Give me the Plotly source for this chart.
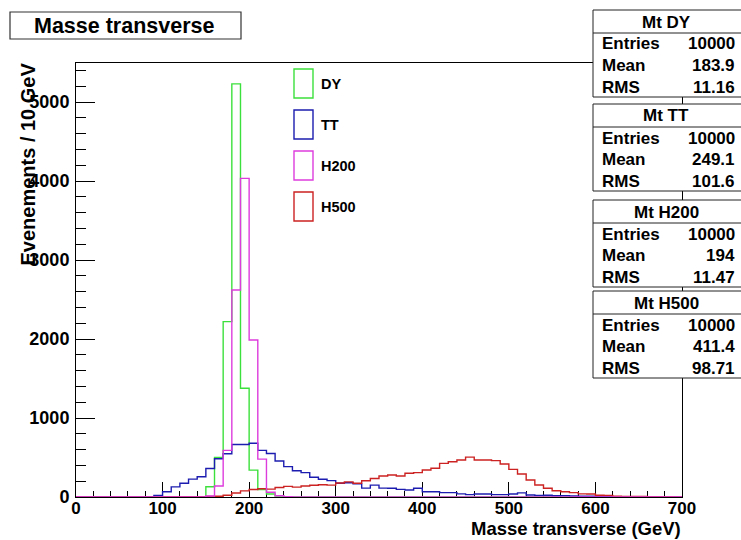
import plotly.graph_objects as go

# 70 bins of 10 GeV between 0 and 700 GeV
bin_edges = list(range(0, 710, 10))

dy = [
    0, 0, 0, 0, 0, 0, 0, 0, 0, 0,
    0, 0, 0, 0, 0, 130, 500, 2220, 5230, 1376,
    340, 95, 38, 13, 3, 0, 0, 0, 0, 0,
    0, 0, 0, 0, 0, 0, 0, 0, 0, 0,
    0, 0, 0, 0, 0, 0, 0, 0, 0, 0,
    0, 0, 0, 0, 0, 0, 0, 0, 0, 0,
    0, 0, 0, 0, 0, 0, 0, 0, 0, 0,
]
tt = [
    0, 0, 0, 0, 0, 0, 0, 0, 5, 21,
    67, 128, 175, 226, 257, 360, 485, 548, 665, 665,
    680, 590, 550, 455, 384, 333, 308, 250, 225, 207,
    175, 181, 166, 112, 150, 112, 110, 97, 89, 110,
    67, 67, 55, 55, 40, 30, 38, 38, 30, 30,
    38, 52, 25, 21, 22, 15, 18, 12, 10, 10,
    6, 5, 4, 3, 3, 2, 2, 1, 1, 1,
]
h200 = [
    0, 0, 0, 0, 0, 0, 0, 0, 0, 0,
    0, 0, 0, 0, 0, 13, 140, 590, 2620, 4034,
    1987, 480, 60, 15, 3, 0, 0, 0, 0, 0,
    0, 0, 0, 0, 0, 0, 0, 0, 0, 0,
    0, 0, 0, 0, 0, 0, 0, 0, 0, 0,
    0, 0, 0, 0, 0, 0, 0, 0, 0, 0,
    0, 0, 0, 0, 0, 0, 0, 0, 0, 0,
]
h500 = [
    0, 0, 0, 0, 0, 0, 0, 0, 2, 2,
    3, 3, 4, 4, 5, 6, 10, 22, 50, 78,
    95, 105, 100, 120, 135, 125, 140, 148, 155, 150,
    178, 192, 175, 205, 235, 265, 279, 266, 300, 308,
    342, 363, 426, 447, 468, 505, 468, 468, 460, 418,
    350, 291, 215, 152, 110, 80, 67, 55, 40, 38,
    22, 20, 10, 8, 8, 7, 5, 4, 3, 2,
]

series_names = ["DY", "TT", "H200", "H500"]
series_values = [dy, tt, h200, h500]
series_colors = ["#3ce03c", "#1c1cb0", "#dd3cdd", "#cc2222"]
draw_order = [0, 1, 3, 2]

stat_titles = ["Mt DY", "Mt TT", "Mt H200", "Mt H500"]
stat_entries = ["10000", "10000", "10000", "10000"]
stat_means = ["183.9", "249.1", "194", "411.4"]
stat_rms = ["11.16", "101.6", "11.47", "98.71"]

x_ticks = list(range(0, 800, 100))
y_ticks = list(range(0, 6000, 1000))

W, H = 741, 540
L, R, T, B = 76, 682, 63, 497
FONT = "Liberation Sans, Arial, Helvetica, sans-serif"


def px(xp):
    return (xp - L) / (R - L)


def py(yp):
    return (B - yp) / (B - T)


fig = go.Figure()
for i in draw_order:
    vals = series_values[i]
    fig.add_trace(go.Scatter(
        x=bin_edges,
        y=vals + [vals[-1]],
        mode="lines",
        line=dict(shape="hv", color=series_colors[i], width=1.4),
        name=series_names[i],
        showlegend=False,
        hoverinfo="skip",
    ))

shapes = []
annotations = []

# histogram title box
shapes.append(dict(type="rect", xref="paper", yref="paper",
                   x0=px(10), x1=px(241), y0=py(39), y1=py(12),
                   line=dict(color="#333333", width=1.2), fillcolor="white", layer="above"))
annotations.append(dict(text="Masse transverse", xref="paper", yref="paper",
                        x=px(124), y=py(26), xanchor="center", yanchor="middle",
                        showarrow=False, font=dict(family=FONT, size=21.5, color="black", weight="bold")))

# legend entries
leg_tops = [69, 110, 151, 192]
for name, color, top in zip(series_names, series_colors, leg_tops):
    shapes.append(dict(type="rect", xref="paper", yref="paper",
                       x0=px(294), x1=px(313), y0=py(top + 29), y1=py(top),
                       line=dict(color=color, width=1.4), fillcolor="rgba(0,0,0,0)", layer="above"))
    annotations.append(dict(text=name, xref="paper", yref="paper",
                            x=px(319), y=py(top + 15), xanchor="left", yanchor="middle",
                            showarrow=False, font=dict(family=FONT, size=14.5, color="black", weight="bold")))

# statistics boxes
box_tops = [10, 104, 200, 291]
box_h = 87
sfont = dict(family=FONT, size=17, color="black", weight="bold")
for k, top in enumerate(box_tops):
    shapes.append(dict(type="rect", xref="paper", yref="paper",
                       x0=px(593), x1=px(746), y0=py(top + box_h), y1=py(top),
                       line=dict(color="#222222", width=1), fillcolor="white", layer="above"))
    shapes.append(dict(type="line", xref="paper", yref="paper",
                       x0=px(593), x1=px(746), y0=py(top + 23), y1=py(top + 23),
                       line=dict(color="#222222", width=1), layer="above"))
    annotations.append(dict(text=stat_titles[k], xref="paper", yref="paper",
                            x=px(666), y=py(top + 12), xanchor="center", yanchor="middle",
                            showarrow=False, font=sfont))
    rows = [("Entries", stat_entries[k]), ("Mean", stat_means[k]), ("RMS", stat_rms[k])]
    for j, (lab, val) in enumerate(rows):
        yc = top + 34 + j * 21.5
        annotations.append(dict(text=lab, xref="paper", yref="paper",
                                x=px(600), y=py(yc), xanchor="left", yanchor="middle",
                                showarrow=False, font=sfont))
        annotations.append(dict(text=val, xref="paper", yref="paper",
                                x=px(737), y=py(yc), xanchor="right", yanchor="middle",
                                showarrow=False, font=sfont))

# axis titles
annotations.append(dict(text="Masse transverse (GeV)", xref="paper", yref="paper",
                        x=px(682), y=py(540), xanchor="right", yanchor="bottom", borderpad=0,
                        showarrow=False, font=dict(family=FONT, size=18.5, color="black", weight="bold")))
annotations.append(dict(text="Evenements / 10 GeV", xref="paper", yref="paper",
                        x=px(28), y=py(61), xanchor="center", yanchor="top", textangle=-90,
                        showarrow=False, font=dict(family=FONT, size=20, color="black", weight="bold")))

fig.update_layout(
    width=W, height=H, autosize=False,
    margin=dict(l=L, r=W - R, t=T, b=H - B, pad=0),
    paper_bgcolor="white", plot_bgcolor="white",
    showlegend=False,
    shapes=shapes, annotations=annotations,
    xaxis=dict(range=[0, 700], tickvals=x_ticks, ticks="inside", ticklen=15, tickwidth=1,
               tickcolor="black", showline=True, linecolor="black", linewidth=1, mirror=True,
               showgrid=False, zeroline=False,
               tickfont=dict(family=FONT, size=17, color="black", weight="bold"),
               layer="below traces", ticklabelstandoff=-4,
               minor=dict(ticks="inside", ticklen=6, dtick=20, tick0=0, tickcolor="black", showgrid=False)),
    yaxis=dict(range=[0, 5494], tickvals=y_ticks, ticks="inside", ticklen=19, tickwidth=1,
               tickcolor="black", showline=True, linecolor="black", linewidth=1, mirror=True,
               showgrid=False, zeroline=False,
               tickfont=dict(family=FONT, size=18, color="black", weight="bold"),
               layer="below traces", ticklabelstandoff=2,
               minor=dict(ticks="inside", ticklen=10, dtick=200, tick0=0, tickcolor="black", showgrid=False)),
)

fig.write_html("out.html")
